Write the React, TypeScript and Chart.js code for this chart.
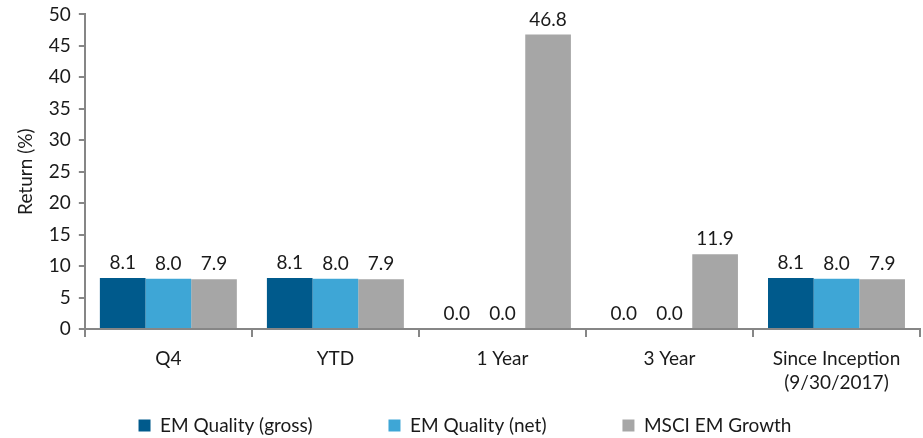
import React, { useEffect, useRef } from "react";
import { Chart, registerables } from "chart.js";

Chart.register(...registerables);

const categories: (string | string[])[] = ["Q4", "YTD", "1 Year", "3 Year", ["Since Inception", "(9/30/2017)"]];
const gross = [8.1, 8.1, 0.0, 0.0, 8.1];
const net = [8.0, 8.0, 0.0, 0.0, 8.0];
const msci = [7.9, 7.9, 46.8, 11.9, 7.9];
const seriesNames = ["EM Quality (gross)", "EM Quality (net)", "MSCI EM Growth"];
const colors = ["#005a8c", "#3ea6d6", "#a6a6a6"];
const yTicks = { min: 0, max: 50, step: 5 };

const FONT = "Lato, 'Noto Sans', sans-serif";
const FS = 19;
const TEXT = "#1a1a1a";
const AXIS = "#868686";
const LEGEND_GAP = "\u2003\u2003\u2002\u2003\u2003\u2002";

const labelPlugin = {
  id: "barLabels",
  afterDatasetsDraw(chart: any) {
    const ctx = chart.ctx;
    ctx.save();
    ctx.font = `${FS}px ${FONT}`;
    ctx.fillStyle = TEXT;
    ctx.textAlign = "center";
    ctx.textBaseline = "middle";
    chart.data.datasets.forEach((ds: any, i: number) => {
      const meta = chart.getDatasetMeta(i);
      meta.data.forEach((el: any, j: number) => {
        const v = ds.data[j] as number;
        ctx.fillText(v.toFixed(1), el.x, el.y - 15);
      });
    });
    ctx.restore();
  },
};

export default function App() {
  const ref = useRef<HTMLCanvasElement>(null);
  useEffect(() => {
    document.body.style.margin = "0";
    const chart = new Chart(ref.current!, {
      type: "bar",
      data: {
        labels: categories,
        datasets: [gross, net, msci].map((d, i) => ({
          label: seriesNames[i],
          data: d,
          backgroundColor: colors[i],
          categoryPercentage: 0.82,
          barPercentage: 1.0,
        })),
      },
      options: {
        animation: false,
        responsive: true,
        maintainAspectRatio: false,
        layout: { padding: { right: 3, top: 0, left: 10, bottom: 0 } },
        plugins: {
          legend: {
            position: "bottom",
            labels: {
              font: { family: FONT, size: FS },
              color: TEXT,
              boxWidth: 12,
              boxHeight: 12,
              padding: 0,
              generateLabels: (c: any) =>
                Chart.defaults.plugins.legend.labels
                  .generateLabels(c)
                  .map((l: any, i: number, arr: any[]) => ({
                    ...l,
                    text: i < arr.length - 1 ? l.text + LEGEND_GAP : l.text,
                  })),
            },
          },
          tooltip: { enabled: false },
        },
        scales: {
          x: {
            grid: {
              drawOnChartArea: false,
              drawTicks: true,
              tickLength: 8,
              color: AXIS,
              lineWidth: 2,
              offset: true,
            },
            border: { color: AXIS, width: 2 },
            ticks: { font: { family: FONT, size: FS, lineHeight: 1.25 }, color: TEXT, padding: 10 },
            afterFit: (scale: any) => {
              scale.height = 87;
            },
          },
          y: {
            min: yTicks.min,
            max: yTicks.max,
            ticks: { stepSize: yTicks.step, font: { family: FONT, size: FS }, color: TEXT, padding: 8 },
            grid: {
              drawOnChartArea: false,
              drawTicks: true,
              tickLength: 6,
              color: AXIS,
              lineWidth: 2,
            },
            border: { color: AXIS, width: 2 },
            title: { display: true, text: "Return (%)", font: { family: FONT, size: FS }, color: TEXT, padding: 4 },
          },
        },
      },
      plugins: [labelPlugin],
    });
    return () => chart.destroy();
  }, []);
  return (
    <div style={{ width: 923, height: 438, overflow: "hidden" }}>
      <div style={{ position: "relative", top: -5, width: 923, height: 450 }}>
        <canvas ref={ref} />
      </div>
    </div>
  );
}
